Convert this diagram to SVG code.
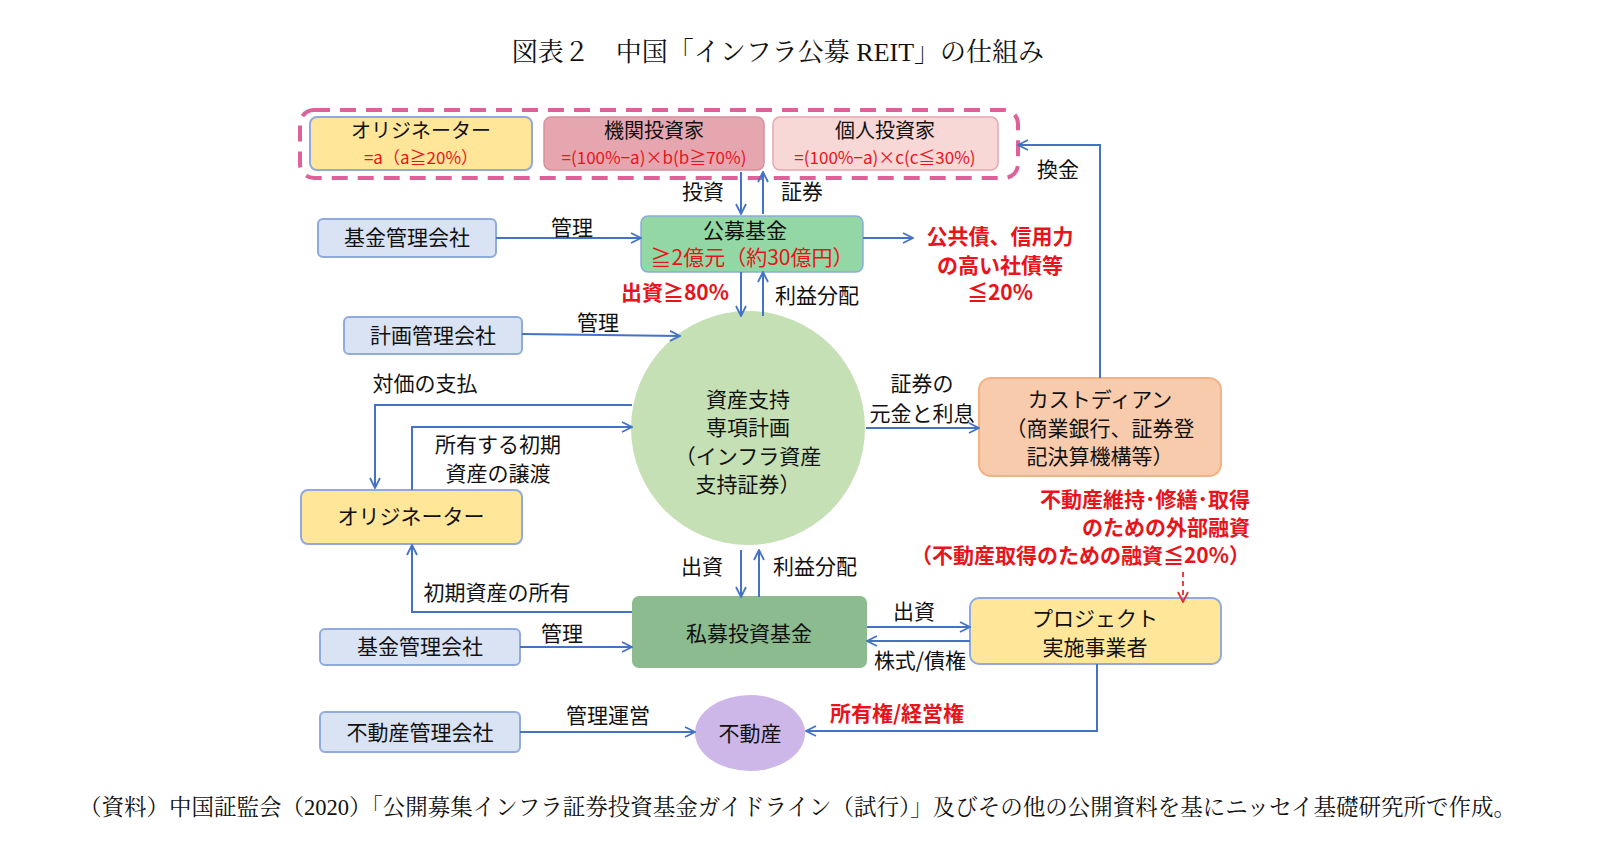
<svg xmlns="http://www.w3.org/2000/svg" width="1616" height="863" viewBox="0 0 1616 863">
<defs>
<marker id="ar" viewBox="0 0 12 12" refX="11" refY="6" markerWidth="12" markerHeight="12" markerUnits="userSpaceOnUse" orient="auto"><path d="M1,1 L11,6 L1,11" fill="none" stroke="#4472C4" stroke-width="1.8"/></marker>
<marker id="arr" viewBox="0 0 12 12" refX="11" refY="6" markerWidth="12" markerHeight="12" markerUnits="userSpaceOnUse" orient="auto"><path d="M1,1 L11,6 L1,11" fill="none" stroke="#E03030" stroke-width="1.8"/></marker>
</defs>
<style>
text{font-family:"Noto Sans CJK JP","Noto Sans",sans-serif;font-size:21px;fill:#111;text-anchor:middle}
.r{fill:#E8141B;font-weight:bold}
.rn{fill:#E8141B}
.s{font-family:"Liberation Serif","Noto Serif CJK JP","Noto Sans CJK JP",serif}
.t20{font-size:20px}
.t17{font-size:17px}
.c{stroke:#4472C4;stroke-width:2;fill:none;marker-end:url(#ar)}
.bl{fill:#DAE3F3;stroke:#8FAADC;stroke-width:2}
.ye{fill:#FFE699;stroke:#8FAADC;stroke-width:2}
</style>
<text class="s" x="778" y="61" style="font-size:26px">図表２　中国「インフラ公募 REIT」の仕組み</text>
<rect x="300" y="110" width="718" height="68" rx="14" fill="none" stroke="#E0609A" stroke-width="4" stroke-dasharray="16,10"/>
<g id="orig1"><rect class="ye" x="310" y="117" width="222" height="53" rx="7"/><text class="t20" x="421" y="138">オリジネーター</text><text class="rn t17" x="421" y="164">=a（a≧20%）</text></g>
<g id="inst"><rect x="544" y="117" width="220" height="53" rx="7" fill="#E6A6B0" stroke="#D98E9B" stroke-width="1.5"/><text class="t20" x="654" y="138">機関投資家</text><text class="rn t17" x="654" y="164">=(100%−a)×b(b≧70%)</text></g>
<g id="indiv"><rect x="773" y="117" width="225" height="53" rx="7" fill="#F8D7D7" stroke="#E6A6B0" stroke-width="1.5"/><text class="t20" x="885" y="138">個人投資家</text><text class="rn t17" x="885" y="164">=(100%−a)×c(c≦30%)</text></g>
<g id="pubfund"><rect x="641" y="216" width="222" height="56" rx="7" fill="#92D7A4" stroke="#8FAADC" stroke-width="1.5"/><text x="745" y="238">公募基金</text><text class="rn" x="752" y="265">≧2億元（約30億円）</text></g>
<g id="fm1"><rect class="bl" x="318" y="219" width="178" height="38" rx="5"/><text x="407" y="245">基金管理会社</text></g>
<g id="pm"><rect class="bl" x="344" y="317" width="178" height="37" rx="5"/><text x="433" y="343">計画管理会社</text></g>
<g id="abs"><circle cx="748" cy="428" r="117" fill="#C5E0B4"/><text x="748" y="407">資産支持</text><text x="748" y="435">専項計画</text><text x="748" y="464">（インフラ資産</text><text x="748" y="492">支持証券）</text></g>
<g id="orig2"><rect class="ye" x="301" y="490" width="221" height="54" rx="7"/><text x="411" y="524">オリジネーター</text></g>
<g id="cust"><rect x="979" y="378" width="242" height="98" rx="12" fill="#F8CBAD" stroke="#F4B183" stroke-width="2"/><text x="1100" y="407">カストディアン</text><text x="1100" y="436">（商業銀行、証券登</text><text x="1100" y="464">記決算機構等）</text></g>
<g id="pefund"><rect x="632" y="596" width="235" height="72" rx="7" fill="#8CBB8F"/><text x="749" y="641">私募投資基金</text></g>
<g id="fm2"><rect class="bl" x="320" y="629" width="200" height="36" rx="5"/><text x="420" y="654">基金管理会社</text></g>
<g id="proj"><rect class="ye" x="970" y="598" width="251" height="66" rx="9"/><text x="1095" y="626">プロジェクト</text><text x="1095" y="655">実施事業者</text></g>
<g id="re"><ellipse cx="750" cy="733" rx="55" ry="38" fill="#CDB6E8"/><text x="750" y="741">不動産</text></g>
<g id="rem"><rect class="bl" x="320" y="712" width="200" height="40" rx="5"/><text x="420" y="740">不動産管理会社</text></g>
<g id="connectors">
<path class="c" d="M741,172 V214"/><path class="c" d="M763,214 V172"/>
<path class="c" d="M496,238 H641"/>
<path class="c" d="M863,238 H913"/>
<path class="c" d="M741,272 V316"/><path class="c" d="M763,316 V272"/>
<path class="c" d="M522,334 L680,336"/>
<path class="c" d="M632,405 H375 V488"/>
<path class="c" d="M412,490 V427 H632"/>
<path class="c" d="M632,612 H412 V545"/>
<path class="c" d="M741,550 V597"/><path class="c" d="M759,597 V550"/>
<path class="c" d="M520,647 H632"/>
<path class="c" d="M867,627 H970"/><path class="c" d="M970,641 H867"/>
<path class="c" d="M866,428 H979"/>
<path class="c" d="M1100,378 V145 H1018"/>
<path class="c" d="M520,732 H695"/>
<path class="c" d="M1097,664 V731 H806"/>
<path d="M1183,572 V602" stroke="#E03030" stroke-width="1.8" stroke-dasharray="5,4" fill="none" marker-end="url(#arr)"/>
</g>
<text x="703" y="199">投資</text><text x="802" y="199">証券</text>
<text x="572" y="235">管理</text>
<text class="r" x="1000" y="244">公共債、信用力</text><text class="r" x="1000" y="273">の高い社債等</text><text class="r" x="1000" y="300">≦20%</text>
<text class="r" x="675" y="300">出資≧80%</text><text x="817" y="303">利益分配</text>
<text x="598" y="330">管理</text>
<text x="425" y="391">対価の支払</text>
<text x="498" y="452">所有する初期</text><text x="498" y="481">資産の譲渡</text>
<text x="497" y="600">初期資産の所有</text>
<text x="702" y="574">出資</text><text x="815" y="574">利益分配</text>
<text x="562" y="641">管理</text>
<text x="914" y="619">出資</text><text x="920" y="668">株式/債権</text>
<text x="922" y="391">証券の</text><text x="922" y="421">元金と利息</text>
<text x="1058" y="177">換金</text>
<text x="608" y="723">管理運営</text>
<text class="r" x="897" y="721">所有権/経営権</text>
<text class="r" x="1250" y="507" style="text-anchor:end">不動産維持･修繕･取得</text>
<text class="r" x="1250" y="535" style="text-anchor:end">のための外部融資</text>
<text class="r" x="1250" y="563" style="text-anchor:end">（不動産取得のための融資≦20%）</text>
<text class="s" x="79" y="815" style="text-anchor:start;font-size:22.5px">（資料）中国証監会（2020）「公開募集インフラ証券投資基金ガイドライン（試行）」及びその他の公開資料を基にニッセイ基礎研究所で作成。</text>
</svg>
